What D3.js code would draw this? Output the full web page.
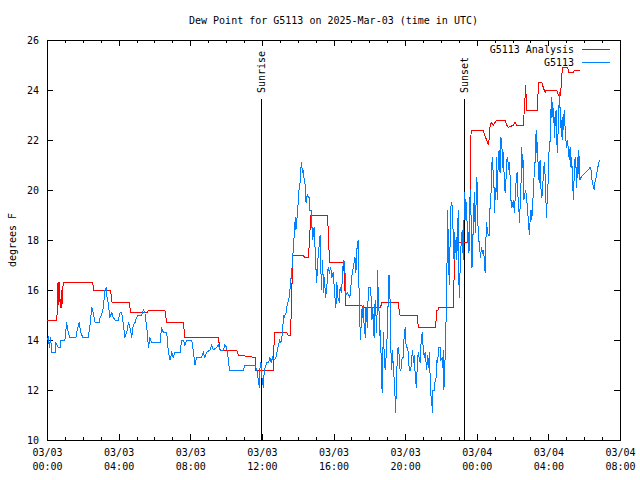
<!DOCTYPE html>
<html>
<head>
<meta charset="utf-8">
<script src="https://cdn.jsdelivr.net/npm/d3@7"></script>
<style>
  body { margin: 0; background: #fff; }
  text { font-family: "DejaVu Sans Mono", monospace; font-size: 10px; fill: #000; }
</style>
</head>
<body>
<div id="chart"></div>
<script>
const chartTitle = 'Dew Point for G5113 on 2025-Mar-03 (time in UTC)';
const yLabel = 'degrees F';
const seriesNames = ['G5113 Analysis', 'G5113'];
const seriesColors = ['#ff0000', '#0080ff'];
const yTicks = [10, 12, 14, 16, 18, 20, 22, 24, 26];
const startDay = Date.UTC(2025, 2, 3);   // 03/03 00:00 UTC
const spanHours = 32;

// sun events, minutes after 03/03 00:00 UTC
const sunNames = ['Sunrise', 'Sunset'];
const sunMinutes = [718, 1398];

// analysis series: [minutes after start, degrees F]
const analysis = [
  [0,14.8],[33,14.8],[35,15.6],[37,16.3],[39,15.4],[41,16.3],[43,15.6],[46,15.3],[48,16.0],[50,15.3],[52,16.0],[55,16.3],
  [153,16.3],[157,16.0],[213,16.0],[218,15.5],[276,15.5],[280,15.1],[336,15.1],[340,15.2],[395,15.2],[401,14.7],
  [457,14.7],[462,14.1],[518,14.1],[522,14.1],[574,14.1],[580,13.6],[636,13.6],[641,13.4],[697,13.3],[700,12.8],
  [758,12.8],[762,14.3],[803,14.3],[807,14.2],[816,14.2],[820,15.7],[823,17.4],[860,17.4],[862,17.3],[876,17.3],
  [880,18.1],[884,19.0],[940,19.0],[945,17.6],[948,17.1],[994,17.1],[997,16.3],[1001,15.4],[1054,15.4],[1058,15.3],
  [1118,15.3],[1121,15.5],[1177,15.5],[1181,15.1],[1183,15.0],[1241,15.0],[1244,14.5],[1302,14.5],[1306,15.2],
  [1310,15.2],[1312,15.3],[1362,15.3],[1364,16.5],[1366,17.9],[1415,17.9],[1418,20.1],[1421,22.4],[1462,22.4],
  [1466,22.2],[1473,22.0],[1479,21.8],[1482,22.1],[1485,22.6],[1490,22.7],[1496,22.6],[1501,22.7],[1507,22.8],
  [1512,22.8],[1535,22.8],[1540,22.6],[1546,22.5],[1563,22.6],[1568,22.7],[1574,22.6],[1596,22.6],[1600,23.3],
  [1604,24.2],[1607,23.2],[1643,23.2],[1647,24.3],[1658,24.3],[1663,24.1],[1669,23.9],[1672,24.0],[1708,24.0],
  [1714,23.8],[1721,23.8],[1725,24.6],[1728,24.9],[1744,24.9],[1749,24.7],[1764,24.7],[1767,24.8],[1786,24.8]
];

// station observations: [minutes after start, degrees F]
const observed = [
  [0,14.0],[4,14.1],[8,13.7],[12,14.1],[16,13.5],[27,13.5],[30,13.9],[38,13.7],[44,13.7],[46,14.0],[60,14.0],
  [66,14.7],[71,14.3],[77,14.1],[97,14.1],[99,14.3],[108,14.7],[113,14.3],[120,14.1],[138,14.1],[144,14.6],
  [150,15.3],[155,15.1],[161,14.7],[175,14.7],[178,14.9],[183,15.0],[189,15.3],[194,16.0],[198,16.1],[202,15.6],
  [205,15.5],[211,14.9],[217,15.1],[222,14.9],[228,14.8],[239,14.8],[245,15.1],[250,15.1],[256,14.6],[261,14.1],
  [267,14.3],[273,14.7],[278,14.5],[284,14.1],[289,14.6],[295,14.7],[300,14.9],[306,15.0],[317,15.0],[323,15.2],
  [328,15.1],[336,14.3],[340,13.7],[345,14.1],[350,13.9],[379,13.9],[384,14.5],[390,14.3],[401,14.3],[407,13.5],
  [412,13.2],[418,13.5],[423,13.3],[429,13.5],[446,13.5],[451,14.0],[457,14.0],[462,13.8],[468,14.0],[485,14.0],
  [490,13.6],[496,13.0],[501,13.3],[518,13.3],[524,13.5],[529,13.3],[535,13.5],[546,13.6],[552,13.8],[557,13.6],
  [568,13.7],[574,13.8],[580,13.6],[591,13.6],[596,13.8],[602,13.7],[608,13.2],[611,12.8],[658,12.8],[663,13.0],
  [697,13.0],[703,12.8],[708,12.4],[712,12.1],[714,13.0],[717,13.1],[720,12.5],[725,12.1],[728,12.8],[734,13.0],
  [736,13.1],[742,13.1],[747,13.3],[751,13.1],[756,13.3],[761,13.2],[767,13.3],[772,13.6],[776,13.8],[779,14.0],
  [783,13.9],[786,14.0],[790,14.4],[792,15.0],[795,14.9],[801,15.1],[805,15.4],[810,15.6],[814,16.0],[818,16.5],
  [821,16.9],[825,17.6],[829,18.3],[832,18.9],[834,18.4],[837,18.8],[840,19.1],[843,19.9],[848,20.3],[850,20.7],
  [852,21.1],[854,20.9],[857,20.7],[859,20.8],[861,20.5],[865,20.2],[868,19.5],[870,19.7],[873,19.8],[878,19.7],
  [881,19.2],[885,19.2],[888,18.5],[890,18.0],[895,18.5],[899,17.5],[901,16.9],[904,16.3],[906,17.0],[910,17.5],
  [915,18.2],[917,17.6],[919,16.0],[924,17.2],[926,15.9],[930,16.5],[933,15.7],[937,16.0],[942,16.9],[946,16.7],
  [951,16.9],[954,16.5],[959,16.7],[965,15.7],[968,15.3],[971,16.3],[975,15.7],[980,15.5],[982,16.1],[987,15.9],
  [993,17.2],[997,17.1],[1002,15.8],[1006,15.9],[1011,15.8],[1015,15.7],[1021,16.5],[1026,16.9],[1032,17.3],
  [1035,16.7],[1038,17.5],[1040,17.9],[1043,18.0],[1047,14.9],[1049,14.5],[1051,14.0],[1053,14.8],[1056,15.3],
  [1058,14.9],[1060,15.4],[1062,14.7],[1064,14.4],[1067,14.1],[1069,15.3],[1071,15.1],[1073,14.5],[1077,16.1],
  [1085,16.1],[1087,15.2],[1089,14.8],[1091,15.3],[1094,14.7],[1096,14.1],[1098,15.2],[1100,15.6],[1105,14.3],
  [1108,16.8],[1110,15.6],[1114,14.9],[1116,14.1],[1118,14.4],[1120,12.9],[1123,11.9],[1125,13.2],[1127,14.3],
  [1129,13.7],[1133,12.8],[1136,13.3],[1140,14.2],[1144,15.9],[1146,16.6],[1149,15.9],[1152,13.7],[1155,12.8],
  [1158,13.6],[1161,12.7],[1164,12.4],[1166,11.8],[1168,11.1],[1172,12.5],[1174,13.6],[1177,13.7],[1181,13.3],
  [1183,12.8],[1186,12.8],[1190,13.3],[1194,13.3],[1196,14.0],[1200,14.5],[1202,13.9],[1205,13.7],[1209,13.7],
  [1212,13.1],[1214,12.8],[1219,12.8],[1222,13.3],[1225,13.6],[1228,13.1],[1231,13.4],[1234,12.5],[1238,12.1],
  [1241,13.1],[1244,13.5],[1248,13.2],[1250,13.1],[1253,13.8],[1257,14.3],[1259,13.9],[1261,13.7],[1264,13.3],
  [1267,13.5],[1270,13.1],[1272,12.8],[1276,13.4],[1279,12.9],[1281,13.5],[1286,11.8],[1289,11.7],[1291,11.1],
  [1293,12.0],[1297,12.0],[1300,12.3],[1304,12.5],[1306,13.2],[1309,13.1],[1312,13.7],[1317,13.7],[1320,13.2],
  [1324,13.3],[1326,12.9],[1328,13.6],[1330,12.0],[1334,13.3],[1336,14.1],[1338,15.3],[1340,16.6],[1342,19.2],
  [1344,18.3],[1345,17.5],[1348,16.2],[1353,19.3],[1356,19.5],[1359,19.2],[1362,17.7],[1364,17.2],[1366,18.3],
  [1368,17.5],[1371,18.1],[1373,17.2],[1375,18.0],[1378,19.2],[1381,15.7],[1384,16.7],[1387,17.7],[1391,18.4],
  [1393,17.7],[1395,17.2],[1399,19.9],[1401,19.6],[1404,18.8],[1406,19.5],[1409,17.9],[1412,18.3],[1414,17.5],
  [1418,20.0],[1421,18.9],[1424,16.9],[1429,18.8],[1432,19.9],[1435,18.3],[1438,19.6],[1440,20.5],[1442,20.1],
  [1445,18.0],[1449,17.9],[1452,17.3],[1456,17.7],[1459,17.5],[1462,17.6],[1466,17.2],[1468,16.7],[1471,18.1],
  [1473,18.7],[1476,18.3],[1479,18.2],[1482,18.2],[1485,19.5],[1488,19.9],[1490,20.9],[1492,21.3],[1495,20.7],
  [1497,20.8],[1499,19.1],[1501,20.1],[1504,19.6],[1507,21.3],[1509,19.6],[1512,21.2],[1515,21.6],[1518,20.7],
  [1520,22.1],[1524,22.0],[1526,20.9],[1529,21.5],[1531,20.8],[1535,19.9],[1538,20.4],[1540,21.2],[1544,21.3],
  [1546,20.8],[1549,21.1],[1553,20.3],[1555,19.5],[1558,19.3],[1563,19.6],[1566,19.1],[1569,19.7],[1572,20.4],
  [1575,20.7],[1577,19.9],[1581,19.3],[1583,18.7],[1586,19.5],[1588,20.1],[1591,21.7],[1593,20.9],[1596,21.2],
  [1598,19.6],[1602,19.9],[1604,20.0],[1607,19.7],[1610,19.2],[1613,18.8],[1615,18.4],[1617,18.2],[1620,19.2],
  [1622,19.2],[1624,18.8],[1626,19.1],[1630,20.0],[1633,20.8],[1636,21.2],[1639,22.4],[1641,21.5],[1643,21.9],
  [1647,20.5],[1650,20.3],[1652,21.2],[1655,20.1],[1658,19.7],[1661,19.9],[1663,20.8],[1667,21.1],[1670,20.3],
  [1672,19.5],[1674,18.9],[1677,20.0],[1680,20.4],[1682,21.5],[1686,22.0],[1688,22.9],[1690,23.7],[1692,22.9],
  [1695,23.5],[1697,22.7],[1699,22.9],[1701,22.1],[1703,22.8],[1706,23.2],[1708,22.1],[1710,21.5],[1714,22.8],
  [1717,23.9],[1719,23.3],[1721,22.5],[1724,22.8],[1726,22.0],[1728,22.9],[1730,22.4],[1733,23.2],[1736,22.5],
  [1738,22.1],[1741,21.7],[1744,22.0],[1747,21.6],[1750,21.2],[1753,21.7],[1756,20.9],[1758,21.3],[1762,20.1],
  [1764,19.6],[1766,20.4],[1768,21.2],[1771,21.3],[1773,20.8],[1775,20.1],[1777,21.3],[1779,20.5],[1782,21.6],
  [1784,20.9],[1786,20.4],[1789,20.5],[1820,20.9],[1823,20.8],[1826,20.4],[1831,20.1],[1834,20.0],[1836,20.3],
  [1840,20.5],[1844,20.8],[1849,21.1],[1851,21.2]
];

const width = 640, height = 480;
const margin = { top: 40, right: 20, bottom: 40, left: 47 };
const toDate = m => new Date(startDay + m * 60000);

const svg = d3.select('#chart').append('svg')
  .attr('width', width)
  .attr('height', height);

const x = d3.scaleUtc()
  .domain([new Date(startDay), new Date(startDay + spanHours * 3600000)])
  .range([margin.left, width - margin.right]);

const y = d3.scaleLinear()
  .domain([10, 26])
  .range([height - margin.bottom, margin.top]);

const majorTicks = d3.utcHour.every(4).range(x.domain()[0], new Date(+x.domain()[1] + 1));
const minorTicks = d3.utcHour.every(1).range(x.domain()[0], new Date(+x.domain()[1] + 1));

// title
svg.append('text')
  .attr('x', (margin.left + width - margin.right) / 2)
  .attr('y', 20)
  .attr('text-anchor', 'middle')
  .attr('dominant-baseline', 'central')
  .text(chartTitle);

// y label
svg.append('text')
  .attr('transform', `translate(12,${(margin.top + height - margin.bottom) / 2}) rotate(-90)`)
  .attr('text-anchor', 'middle')
  .attr('dominant-baseline', 'central')
  .text(yLabel);

// minor ticks (bottom + top)
svg.append('g')
  .attr('transform', `translate(0,${height - margin.bottom})`)
  .call(d3.axisBottom(x).tickValues(minorTicks).tickSize(-3).tickFormat(''))
  .call(g => g.select('.domain').remove());
svg.append('g')
  .attr('transform', `translate(0,${margin.top})`)
  .call(d3.axisTop(x).tickValues(minorTicks).tickSize(-3).tickFormat(''))
  .call(g => g.select('.domain').remove());

// major x ticks with two-line labels
const fmtDay = d3.utcFormat('%m/%d');
const fmtTime = d3.utcFormat('%H:%M');
const xAxis = svg.append('g')
  .attr('transform', `translate(0,${height - margin.bottom})`)
  .call(d3.axisBottom(x).tickValues(majorTicks).tickSize(-6).tickPadding(0).tickFormat(''))
  .call(g => g.select('.domain').remove());
xAxis.selectAll('.tick').append('text')
  .attr('fill', '#000')
  .attr('text-anchor', 'middle')
  .each(function(d) {
    const t = d3.select(this);
    t.append('tspan').attr('x', 0).attr('y', 16).text(fmtDay(d));
    t.append('tspan').attr('x', 0).attr('y', 30).text(fmtTime(d));
  });
svg.append('g')
  .attr('transform', `translate(0,${margin.top})`)
  .call(d3.axisTop(x).tickValues(majorTicks).tickSize(-6).tickFormat(''))
  .call(g => g.select('.domain').remove());

// y axis left + mirrored right
svg.append('g')
  .attr('transform', `translate(${margin.left},0)`)
  .call(d3.axisLeft(y).tickValues(yTicks).tickSize(-6).tickPadding(8).tickFormat(d3.format('d')))
  .call(g => g.select('.domain').remove())
  .call(g => g.selectAll('text').attr('font-size', null).attr('font-family', null).attr('dy', null)
    .attr('dominant-baseline', 'central'));
svg.append('g')
  .attr('transform', `translate(${width - margin.right},0)`)
  .call(d3.axisRight(y).tickValues(yTicks).tickSize(-6).tickFormat(''))
  .call(g => g.select('.domain').remove());

svg.selectAll('.tick line').attr('stroke', '#000').attr('shape-rendering', 'crispEdges');
svg.selectAll('.tick text').attr('font-size', null).attr('font-family', null);

// frame
svg.append('rect')
  .attr('x', margin.left + 0.5)
  .attr('y', margin.top + 0.5)
  .attr('width', width - margin.left - margin.right)
  .attr('height', height - margin.top - margin.bottom)
  .attr('fill', 'none')
  .attr('stroke', '#000')
  .attr('shape-rendering', 'crispEdges');

// sunrise / sunset markers
sunNames.forEach((name, i) => {
  const sx = Math.round(x(toDate(sunMinutes[i]))) + 0.5;
  svg.append('line')
    .attr('x1', sx).attr('x2', sx)
    .attr('y1', height - margin.bottom).attr('y2', 99)
    .attr('stroke', '#000')
    .attr('shape-rendering', 'crispEdges');
  svg.append('text')
    .attr('transform', `translate(${sx},93) rotate(-90)`)
    .attr('text-anchor', 'start')
    .attr('dominant-baseline', 'central')
    .text(name);
});

// data lines
const line = d3.line()
  .x(d => x(toDate(d[0])))
  .y(d => y(d[1]));

[analysis, observed].forEach((series, i) => {
  svg.append('path')
    .datum(series)
    .attr('fill', 'none')
    .attr('stroke', seriesColors[i])
    .attr('stroke-width', 1)
    .attr('shape-rendering', 'crispEdges')
    .attr('d', line);
});

// legend
seriesNames.forEach((name, i) => {
  const ly = 49 + i * 13;
  svg.append('text')
    .attr('x', 574)
    .attr('y', ly)
    .attr('text-anchor', 'end')
    .attr('dominant-baseline', 'central')
    .text(name);
  svg.append('line')
    .attr('x1', 582).attr('x2', 610)
    .attr('y1', ly + 0.5).attr('y2', ly + 0.5)
    .attr('stroke', seriesColors[i])
    .attr('shape-rendering', 'crispEdges');
});
</script>
</body>
</html>
